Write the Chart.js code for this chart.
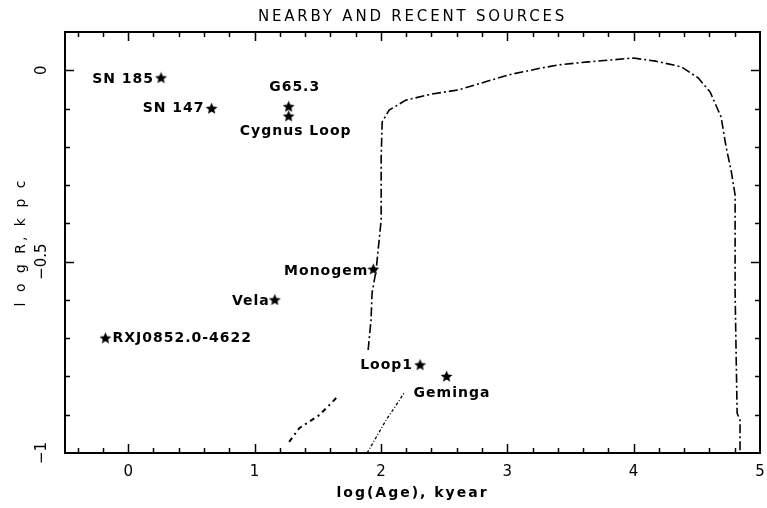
<!DOCTYPE html>
<html>
<head>
<meta charset="utf-8">
<script src="https://cdn.jsdelivr.net/npm/chart.js@4"></script>
<style>
html,body{margin:0;padding:0;background:#fff}
#wrap{width:767px;height:508px}
</style>
</head>
<body>
<div id="wrap"><canvas id="chart"></canvas></div>
<script>
// sources: log(age) in kyear, log R in kpc
const sourceNames = ["SN 185", "SN 147", "G65.3", "Cygnus Loop", "Monogem", "Vela", "RXJ0852.0-4622", "Loop1", "Geminga"];
const sourceAge = [0.26, 0.66, 1.27, 1.27, 1.94, 1.16, -0.18, 2.31, 2.52];
const sourceR = [-0.02, -0.10, -0.095, -0.12, -0.52, -0.60, -0.70, -0.77, -0.80];

// long dash-dot boundary
const edgeAge = [1.899, 1.922, 1.930, 1.962, 1.986, 2.002, 2.002, 2.010, 2.065, 2.199, 2.404, 2.617, 2.798, 3.011, 3.271, 3.406, 3.642, 3.824, 3.998, 4.172, 4.377, 4.511, 4.606, 4.692, 4.732, 4.771, 4.803, 4.803, 4.819, 4.842, 4.842];
const edgeR = [-0.731, -0.652, -0.582, -0.522, -0.444, -0.391, -0.229, -0.135, -0.104, -0.078, -0.062, -0.051, -0.033, -0.012, 0.006, 0.014, 0.022, 0.027, 0.032, 0.024, 0.009, -0.020, -0.057, -0.122, -0.201, -0.261, -0.326, -0.582, -0.896, -0.914, -1.0];

// two short tracks near the bottom
const trackAAge = [1.274, 1.354, 1.512, 1.591, 1.662];
const trackAR = [-0.971, -0.935, -0.901, -0.875, -0.851];
const trackBAge = [1.891, 2.041, 2.183];
const trackBR = [-1.0, -0.914, -0.844];

const xTicks = [0, 1, 2, 3, 4, 5];
const yTicks = [0, -0.5, -1];
const yTickLabels = ["0", "\u22120.5", "\u22121"];

function pairs(xs, ys){
    return xs.map(function(x, i){ return {x: x, y: ys[i]}; });
}

// filled five point star used as the marker
const star = document.createElement("canvas");
star.width = 13;
star.height = 13;
(function(){
    const c = star.getContext("2d");
    c.fillStyle = "#000";
    c.beginPath();
    for(let i = 0; i < 10; i++){
        const r = i % 2 === 0 ? 6.2 : 2.8;
        const a = -Math.PI / 2 + i * Math.PI / 5;
        const px = 6.5 + r * Math.cos(a);
        const py = 6.8 + r * Math.sin(a);
        if(i === 0){ c.moveTo(px, py); } else { c.lineTo(px, py); }
    }
    c.closePath();
    c.fill();
})();

const FONT = "bold 14px 'DejaVu Sans'";

// label placement next to each star: [align, dx, dy]
const place = [
    ["right", -7, 1],
    ["right", -7, 0],
    ["center", 6, -19],
    ["center", 7, 15],
    ["right", -5, 2],
    ["right", -5, 1],
    ["left", 7, 0],
    ["right", -7, 0],
    ["left", -33, 17]
];

const decor = {
    id: "decor",
    afterDatasetsDraw(chart){
        const ctx = chart.ctx;
        const meta = chart.getDatasetMeta(0);
        ctx.save();
        ctx.fillStyle = "#000";
        ctx.font = FONT;
        ctx.letterSpacing = "1px";
        ctx.textBaseline = "middle";
        meta.data.forEach(function(pt, i){
            const p = place[i];
            ctx.textAlign = p[0];
            ctx.fillText(sourceNames[i], pt.x + p[1], pt.y + p[2]);
        });
        ctx.restore();
    },
    afterDraw(chart){
        const ctx = chart.ctx;
        const a = chart.chartArea;
        const xs = chart.scales.x;
        const ys = chart.scales.y;
        ctx.save();
        ctx.strokeStyle = "#000";
        ctx.fillStyle = "#000";

        ctx.lineWidth = 2;
        ctx.strokeRect(a.left, a.top, a.right - a.left, a.bottom - a.top);

        ctx.lineWidth = 1.5;
        ctx.beginPath();
        for(let i = -2; i <= 25; i++){
            const v = i * 0.2;
            const px = Math.round(xs.getPixelForValue(v)) + 0.5;
            if(px <= a.left + 1 || px >= a.right - 1){ continue; }
            const len = i % 5 === 0 ? 9 : 5;
            ctx.moveTo(px, a.bottom);
            ctx.lineTo(px, a.bottom - len);
            ctx.moveTo(px, a.top);
            ctx.lineTo(px, a.top + len);
        }
        for(let i = -10; i <= 1; i++){
            const v = i * 0.1;
            const py = Math.round(ys.getPixelForValue(v)) + 0.5;
            if(py <= a.top + 1 || py >= a.bottom - 1){ continue; }
            const len = i % 5 === 0 ? 9 : 5;
            ctx.moveTo(a.left, py);
            ctx.lineTo(a.left + len, py);
            ctx.moveTo(a.right, py);
            ctx.lineTo(a.right - len, py);
        }
        ctx.stroke();

        ctx.font = "15px 'DejaVu Sans'";
        ctx.textAlign = "center";
        ctx.textBaseline = "middle";
        xTicks.forEach(function(v){
            ctx.fillText(String(v), xs.getPixelForValue(v), a.bottom + 19);
        });
        yTicks.forEach(function(v, i){
            ctx.save();
            ctx.translate(a.left - 23, ys.getPixelForValue(v));
            ctx.rotate(-Math.PI / 2);
            ctx.fillText(yTickLabels[i], 0, 0);
            ctx.restore();
        });

        ctx.font = FONT;
        ctx.letterSpacing = "2px";
        ctx.fillText("log(Age), kyear", (a.left + a.right) / 2, a.bottom + 40);
        ctx.save();
        ctx.translate(21, 242);
        ctx.rotate(-Math.PI / 2);
        ctx.font = "14px 'DejaVu Sans'";
        ctx.letterSpacing = "3px";
        ctx.fillText("l o g R, k p c", 0, 0);
        ctx.restore();

        ctx.font = "15px 'DejaVu Sans'";
        ctx.letterSpacing = "2.8px";
        ctx.fillText("NEARBY AND RECENT SOURCES", (a.left + a.right) / 2, 17);
        ctx.restore();
    }
};

document.addEventListener("DOMContentLoaded", function(){
    const ctx = document.getElementById("chart").getContext("2d");
    new Chart(ctx, {
        type: "scatter",
        data: {
            datasets: [
                {
                    label: "Sources",
                    data: pairs(sourceAge, sourceR),
                    pointStyle: star,
                    pointRadius: 6
                },
                {
                    label: "Boundary",
                    data: pairs(edgeAge, edgeR),
                    showLine: true,
                    pointRadius: 0,
                    borderColor: "#000",
                    borderWidth: 1.6,
                    borderDash: [9, 3, 2, 3]
                },
                {
                    label: "Track A",
                    data: pairs(trackAAge, trackAR),
                    showLine: true,
                    pointRadius: 0,
                    borderColor: "#000",
                    borderWidth: 2,
                    borderDash: [5, 4, 2, 4]
                },
                {
                    label: "Track B",
                    data: pairs(trackBAge, trackBR),
                    showLine: true,
                    pointRadius: 0,
                    borderColor: "#000",
                    borderWidth: 1.3,
                    borderDash: [3, 2, 1, 2]
                }
            ]
        },
        options: {
            responsive: true,
            maintainAspectRatio: false,
            animation: false,
            layout: {
                padding: {left: 65, top: 32, right: 5, bottom: 55}
            },
            plugins: {
                legend: {display: false},
                tooltip: {enabled: false}
            },
            scales: {
                x: {type: "linear", display: false, min: -0.5, max: 5},
                y: {type: "linear", display: false, min: -1, max: 0.1}
            }
        },
        plugins: [decor]
    });
});
</script>
</body>
</html>
